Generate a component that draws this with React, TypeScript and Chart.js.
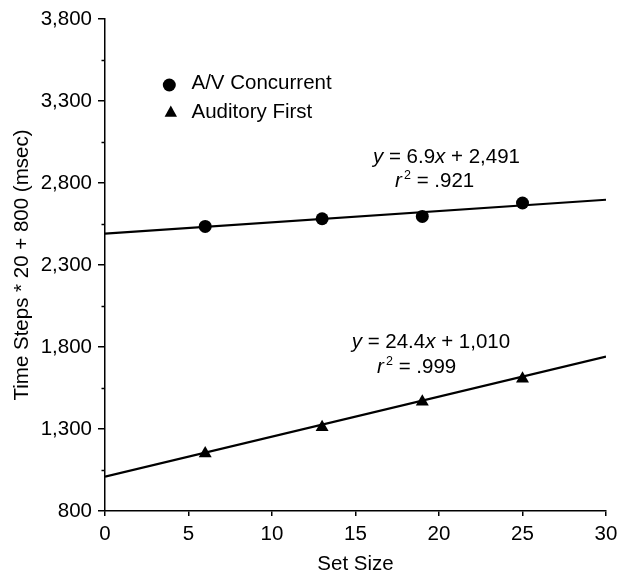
import React, { useEffect, useRef } from 'react';
import { Chart, registerables } from 'chart.js';

Chart.register(...registerables);

// ---- data ----
const SET_SIZES = [6, 13, 19, 25];
const AV_CONCURRENT = [2535, 2582, 2596, 2678];
const AUDITORY_FIRST = [1151, 1310, 1466, 1606];
const SERIES_NAMES = ['A/V Concurrent', 'Auditory First'];
const FIT_SLOPES = [6.9, 24.4];
const FIT_INTERCEPTS = [2491, 1010];
const FIT_INTERCEPT_LABELS = ['2,491', '1,010'];
const FIT_R2_LABELS = ['.921', '.999'];
const X_RANGE = [0, 30];
const Y_RANGE = [800, 3800];
const X_TICK_STEP = 5;
const Y_TICK_STEP = 500;
const X_TITLE = 'Set Size';
const Y_TITLE = 'Time Steps * 20 + 800 (msec)';

const FONT = '"Liberation Sans", Arial, Helvetica, sans-serif';
const FS = 20.5;

type Part = { text: string; italic?: boolean; size?: number; rise?: number };

function drawRich(ctx: CanvasRenderingContext2D, parts: Part[], x: number, baseline: number) {
  let cx = x;
  for (const p of parts) {
    ctx.font = `${p.italic ? 'italic ' : ''}${p.size ?? FS}px ${FONT}`;
    ctx.fillText(p.text, cx, baseline - (p.rise ?? 0));
    cx += ctx.measureText(p.text).width;
  }
}

const overlayPlugin = {
  id: 'overlay',
  afterDraw(chart: any) {
    const ctx: CanvasRenderingContext2D = chart.ctx;
    const yScale = chart.scales.y;
    const left = chart.chartArea.left;
    ctx.save();
    // minor y ticks
    ctx.strokeStyle = '#000';
    ctx.lineWidth = 1.5;
    for (let v = Y_RANGE[0] + Y_TICK_STEP / 2; v < Y_RANGE[1]; v += Y_TICK_STEP) {
      const py = Math.round(yScale.getPixelForValue(v)) + 0.5;
      ctx.beginPath();
      ctx.moveTo(left - 3.5, py);
      ctx.lineTo(left, py);
      ctx.stroke();
    }
    // legend
    ctx.fillStyle = '#000';
    ctx.beginPath();
    ctx.arc(169.3, 85, 6.5, 0, Math.PI * 2);
    ctx.fill();
    ctx.beginPath();
    ctx.moveTo(170.8, 105.5);
    ctx.lineTo(164.6, 116.7);
    ctx.lineTo(177, 116.7);
    ctx.closePath();
    ctx.fill();
    ctx.textAlign = 'left';
    ctx.textBaseline = 'alphabetic';
    ctx.font = `${FS}px ${FONT}`;
    ctx.fillText(SERIES_NAMES[0], 191.5, 89.3);
    ctx.fillText(SERIES_NAMES[1], 191.5, 118.3);

    // equations
    const eqPos = [
      { x: 373, y: 162.7, rx: 395, ry: 186.7 },
      { x: 351.7, y: 348.3, rx: 377, ry: 372.7 },
    ];
    for (let i = 0; i < 2; i++) {
      const p = eqPos[i];
      drawRich(ctx, [
        { text: 'y', italic: true },
        { text: ` = ${FIT_SLOPES[i]}` },
        { text: 'x', italic: true },
        { text: ` + ${FIT_INTERCEPT_LABELS[i]}` },
      ], p.x, p.y);
      drawRich(ctx, [
        { text: 'r', italic: true },
        { text: ' ', size: 8 },
        { text: '2', size: 12.5, rise: 8 },
        { text: ` = ${FIT_R2_LABELS[i]}` },
      ], p.rx, p.ry);
    }
    ctx.restore();
  },
};

export default function App() {
  const ref = useRef<HTMLCanvasElement | null>(null);

  useEffect(() => {
    if (!ref.current) return;
    const pts = (ys: number[]) => SET_SIZES.map((x, i) => ({ x, y: ys[i] }));
    const fit = (i: number) => X_RANGE.map((x) => ({ x, y: FIT_INTERCEPTS[i] + FIT_SLOPES[i] * x }));

    const tickFont = { family: FONT, size: FS };
    const chart = new Chart(ref.current, {
      type: 'scatter',
      data: {
        datasets: [
          {
            label: SERIES_NAMES[0],
            data: pts(AV_CONCURRENT),
            pointStyle: 'circle',
            pointRadius: 6.5,
            backgroundColor: '#000',
            borderColor: '#000',
            borderWidth: 0,
            order: 0,
          },
          {
            label: SERIES_NAMES[1],
            data: pts(AUDITORY_FIRST),
            pointStyle: 'triangle',
            pointRadius: 7.5,
            backgroundColor: '#000',
            borderColor: '#000',
            borderWidth: 0,
            order: 0,
          },
          {
            label: 'fit0',
            data: fit(0),
            showLine: true,
            pointRadius: 0,
            borderColor: '#000',
            borderWidth: 2.2,
            order: 1,
          },
          {
            label: 'fit1',
            data: fit(1),
            showLine: true,
            pointRadius: 0,
            borderColor: '#000',
            borderWidth: 2.2,
            order: 1,
          },
        ] as any,
      },
      options: {
        animation: false,
        responsive: false,
        devicePixelRatio: 1,
        layout: { padding: { top: 19, right: 12, left: 0, bottom: 0 } },
        plugins: { legend: { display: false }, tooltip: { enabled: false } },
        scales: {
          x: {
            type: 'linear',
            min: X_RANGE[0],
            max: X_RANGE[1],
            ticks: { stepSize: X_TICK_STEP, color: '#000', font: tickFont, padding: 6, maxRotation: 0 },
            grid: { display: true, drawOnChartArea: false, drawTicks: true, tickLength: 5, color: '#000', lineWidth: 1.5 },
            border: { display: true, color: '#000', width: 1.5 },
            title: { display: true, text: X_TITLE, color: '#000', font: tickFont, padding: { top: 0, bottom: -2 } },
            afterFit: (s: any) => { s.height = 64; s.paddingLeft = 0; s.paddingRight = 0; },
          },
          y: {
            type: 'linear',
            min: Y_RANGE[0],
            max: Y_RANGE[1],
            ticks: {
              stepSize: Y_TICK_STEP,
              color: '#000',
              font: tickFont,
              padding: 6,
              callback: (v: any) => Number(v).toLocaleString('en-US'),
            },
            grid: { display: true, drawOnChartArea: false, drawTicks: true, tickLength: 7, color: '#000', lineWidth: 1.5 },
            border: { display: true, color: '#000', width: 1.5 },
            title: { display: true, text: Y_TITLE, color: '#000', font: tickFont, padding: { top: 10.5, bottom: 0 } },
            afterFit: (s: any) => { s.width = 105; s.paddingTop = 0; s.paddingBottom = 0; },
          },
        },
      } as any,
      plugins: [overlayPlugin],
    });
    return () => chart.destroy();
  }, []);

  return (
    <div style={{ position: 'absolute', left: 0, top: 0, width: 618, height: 575, background: '#fff' }}>
      <canvas ref={ref} width={618} height={575} style={{ display: 'block' }} />
    </div>
  );
}
